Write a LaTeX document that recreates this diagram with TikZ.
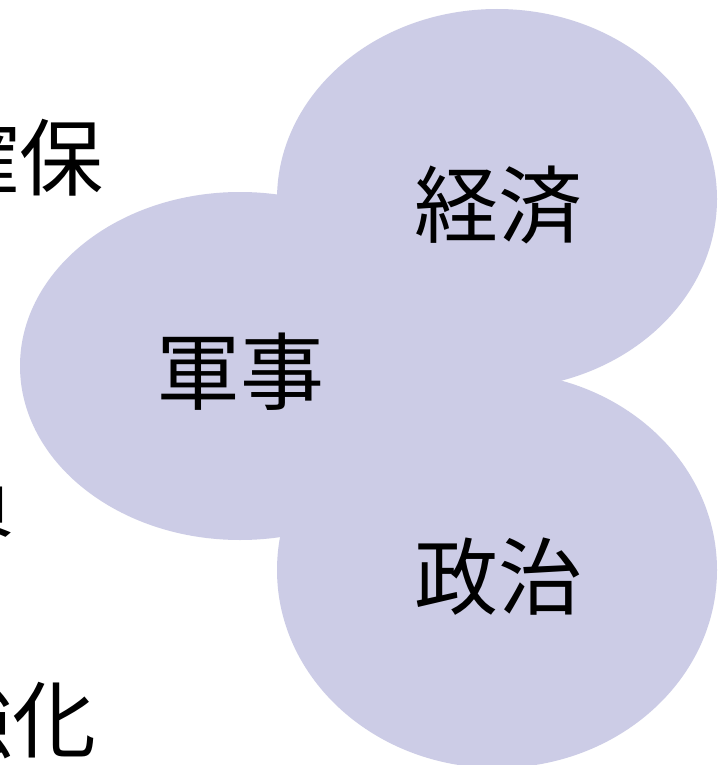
\documentclass[tikz,border=0pt]{standalone}
\usepackage{fontspec}
\newfontfamily\cjk{Noto Sans CJK JP}
\definecolor{blob}{RGB}{204,204,230}
\begin{document}
\begin{tikzpicture}[x=1pt,y=-1pt,
  blobshape/.style={fill=blob,draw=none},
  label/.style={font=\cjk\fontsize{84}{84}\selectfont,inner sep=0pt,text=black}]
\useasboundingbox (0,0) rectangle (725,765);
\clip (0,0) rectangle (725,765);
\fill[white] (0,0) rectangle (725,765);
\path[blobshape] (497,199) ellipse [x radius=220,y radius=190];
\path[blobshape] (240,366) ellipse [x radius=220,y radius=174];
\path[blobshape] (497,570) ellipse [x radius=220,y radius=198];
\node[label] (keizai) at (498,205) {経済};
\node[label] (gunji) at (240,372) {軍事};
\node[label] (seiji) at (498,577) {政治};
\node[label,anchor=east] (kakuho) at (104,158) {確保};
\node[label,anchor=east] (gu) at (15,500) {員};
\node[label,anchor=east] (kyoka) at (97,720) {強化};
\end{tikzpicture}
\end{document}
